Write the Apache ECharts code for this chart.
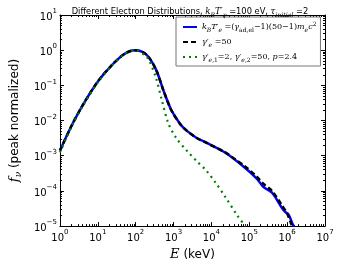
<!DOCTYPE html>
<html><head><meta charset="utf-8">
<script src="https://cdn.jsdelivr.net/npm/echarts@6/dist/echarts.min.js"></script>
<style>html,body{margin:0;padding:0;background:#fff}#c{width:340px;height:266px}</style>
</head><body><div id="c"></div>
<script>
// Data (E in keV, f_nu peak normalized)
const thermalE = [1, 2.2, 4.8, 10.5, 22.6, 49, 95, 186, 340, 540, 870, 1550, 2300, 4100, 7300, 23000, 74000, 160000, 234000, 300000, 417000, 741000, 900000, 1100000, 1450000, 1600000];
const thermalF = [1.4e-3, 8.5e-3, 3.8e-2, 0.138, 0.36, 0.77, 1.0, 0.77, 0.29, 0.072, 0.020, 7.6e-3, 5.0e-3, 3.2e-3, 2.35e-3, 1.23e-3, 4.7e-4, 2.2e-4, 1.3e-4, 1.1e-4, 8.5e-5, 3.2e-5, 2.5e-5, 2.1e-5, 1.05e-5, 1.0e-5];
const monoE = [1, 2.2, 4.8, 10.5, 22.6, 49, 95, 186, 340, 540, 870, 1550, 2300, 4100, 7300, 23000, 42000, 74000, 160000, 234000, 400000, 740000, 1000000, 1200000, 1350000];
const monoF = [1.4e-3, 8.5e-3, 3.8e-2, 0.138, 0.36, 0.77, 1.0, 0.77, 0.29, 0.072, 0.020, 7.6e-3, 5.0e-3, 3.2e-3, 2.35e-3, 1.25e-3, 8.0e-4, 5.2e-4, 2.5e-4, 1.6e-4, 1.0e-4, 3.8e-5, 2.3e-5, 1.4e-5, 1.0e-5];
const plE = [1, 2.2, 4.8, 10.5, 22.6, 49, 95, 186, 229, 340, 490, 725, 1175, 2300, 4100, 7300, 13000, 23000, 50000, 74000, 80000];
const plF = [1.25e-3, 8.0e-3, 3.6e-2, 0.13, 0.35, 0.76, 1.0, 0.68, 0.5, 0.17, 0.038, 8.5e-3, 3.2e-3, 1.35e-3, 7.0e-4, 3.8e-4, 1.7e-4, 6.9e-5, 1.9e-5, 1.1e-5, 1.0e-5];
const xTicks = [0, 1, 2, 3, 4, 5, 6, 7];
const yTicks = [-5, -4, -3, -2, -1, 0, 1];
const names = ['thermal', 'mono', 'powerlaw'];

const zip = (a, b) => a.map((v, i) => [v, b[i]]);
const supFmt = v => {
  const e = Math.round(Math.log10(v));
  return '{b|10}{s|' + (e < 0 ? '\u2212' + (-e) : e) + '}';
};
const richTick = {
  b: {fontSize: 10, fontFamily: 'DejaVu Sans', color: '#000', verticalAlign: 'bottom', lineHeight: 14},
  s: {fontSize: 7, fontFamily: 'DejaVu Sans', color: '#000', verticalAlign: 'top', lineHeight: 14}
};
const axisCommon = {
  axisLine: {show: true, lineStyle: {color: '#000', width: 1}},
  axisTick: {show: true, inside: true, length: 4, lineStyle: {color: '#000'}},
  minorTick: {show: true, splitNumber: 9, length: 2, lineStyle: {color: '#000'}},
  splitLine: {show: false},
  minorSplitLine: {show: false}
};
const serif = 'DejaVu Serif';
const fs = 8, fss = 6;
const legendRich = {
  i: {fontFamily: serif, fontStyle: 'italic', fontSize: fs, color: '#000'},
  n: {fontFamily: serif, fontSize: fs, color: '#000'},
  sub: {fontFamily: serif, fontStyle: 'italic', fontSize: fss, color: '#000', verticalAlign: 'bottom', lineHeight: 12},
  subn: {fontFamily: serif, fontSize: fss, color: '#000', verticalAlign: 'bottom', lineHeight: 12},
  sup: {fontFamily: serif, fontSize: fss, color: '#000', verticalAlign: 'top', lineHeight: 12}
};
const legendText = {
  thermal: '{i|k}{sub|B}{i|T′}{sub|e}{n| =(}{i|γ}{subn|ad,el}{n|−1)(50−1)}{i|m}{sub|e}{i|c}{sup|2}',
  mono: '{i|γ′}{sub|e}{n| =50}',
  powerlaw: '{i|γ′}{sub|e}{subn|,1}{n|=2, }{i|γ′}{sub|e}{subn|,2}{n|=50, }{i|p}{n|=2.4}'
};

const chart = echarts.init(document.getElementById('c'), null, {renderer: 'canvas'});
chart.setOption({
  animation: false,
  backgroundColor: '#fff',
  title: {
    text: '{n|Different Electron Distributions, }{i|k}{sub|B}{i|T′}{sub|γ}{n| =100 eV, }{i|τ}{sub|initial}{n| =2}',
    left: 185, top: 1, textAlign: 'center',
    textStyle: {
      fontWeight: 'normal',
      rich: {
        n: {fontFamily: 'DejaVu Sans', fontSize: 8.3, fontWeight: 'normal', color: '#000'},
        i: {fontFamily: serif, fontStyle: 'italic', fontWeight: 'normal', fontSize: 8.6, color: '#000'},
        sub: {fontFamily: serif, fontStyle: 'italic', fontWeight: 'normal', fontSize: 6.2, color: '#000', verticalAlign: 'bottom', lineHeight: 12}
      }
    }
  },
  grid: {left: 46, right: 15, top: 15, bottom: 36},
  legend: {
    orient: 'vertical', left: 176, top: 17,
    data: names,
    formatter: n => legendText[n],
    textStyle: {rich: legendRich},
    itemWidth: 14, itemHeight: 9, itemGap: 5,
    itemStyle: {opacity: 0},
    padding: [4, 4, 3, 6],
    borderColor: '#777', borderWidth: 1, borderRadius: 0,
    backgroundColor: '#fff'
  },
  xAxis: [
    Object.assign({
      type: 'log', logBase: 10, min: 1, max: 1e7, position: 'bottom',
      name: '{i|E}{n| (keV)}', nameLocation: 'middle', nameGap: 21,
      nameTextStyle: {rich: {i: {fontFamily: serif, fontStyle: 'italic', fontSize: 13, color: '#000'}, n: {fontFamily: 'DejaVu Sans', fontSize: 12, color: '#000'}}},
      axisLabel: {formatter: supFmt, rich: richTick, margin: 3}
    }, axisCommon),
    Object.assign({
      type: 'log', logBase: 10, min: 1, max: 1e7, position: 'top',
      axisLabel: {show: false}
    }, axisCommon)
  ],
  yAxis: [
    Object.assign({
      type: 'log', logBase: 10, min: 1e-5, max: 10, position: 'left',
      name: '{i|f}{sub|ν}{n| (peak normalized)}', nameLocation: 'middle', nameGap: 29, nameRotate: 90,
      nameTextStyle: {rich: {i: {fontFamily: serif, fontStyle: 'italic', fontSize: 13, color: '#000'}, sub: {fontFamily: serif, fontStyle: 'italic', fontSize: 9, color: '#000', verticalAlign: 'bottom', lineHeight: 17}, n: {fontFamily: 'DejaVu Sans', fontSize: 12, color: '#000'}}},
      axisLabel: {formatter: supFmt, rich: richTick, margin: 3}
    }, axisCommon),
    Object.assign({
      type: 'log', logBase: 10, min: 1e-5, max: 10, position: 'right',
      axisLabel: {show: false}
    }, axisCommon)
  ],
  series: [
    {name: 'thermal', type: 'line', data: zip(thermalE, thermalF), smooth: 0.3, symbol: 'none', clip: true,
     lineStyle: {color: '#0000ff', width: 2.5}, itemStyle: {color: '#0000ff'}, z: 2},
    {name: 'mono', type: 'line', data: zip(monoE, monoF), smooth: 0.3, symbol: 'none', clip: true,
     lineStyle: {color: '#000', width: 2.5, type: [5, 3]}, itemStyle: {color: '#000'}, z: 3},
    {name: 'powerlaw', type: 'line', data: zip(plE, plF), smooth: 0.3, symbol: 'none', clip: true,
     lineStyle: {color: '#008000', width: 2.2, type: [2, 4]}, itemStyle: {color: '#008000'}, z: 4}
  ]
});
</script></body></html>
